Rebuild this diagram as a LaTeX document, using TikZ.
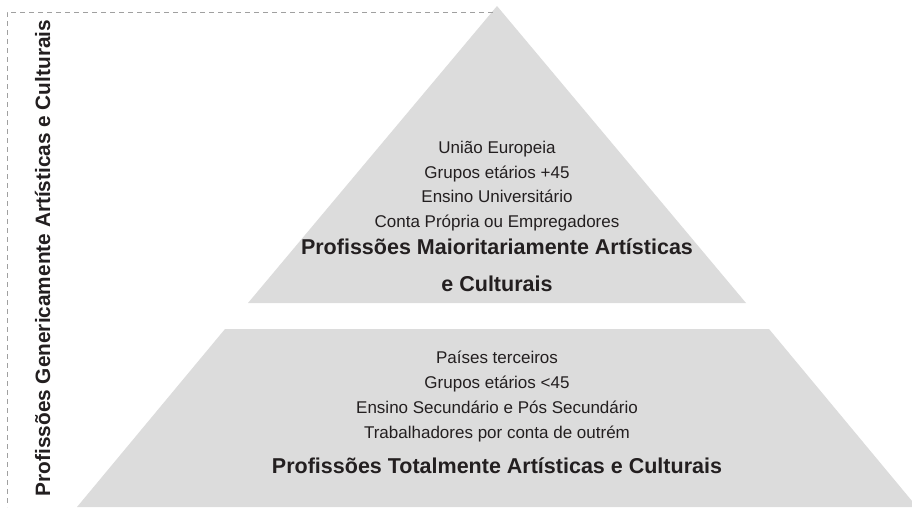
\documentclass[tikz,border=0pt]{standalone}
\usepackage{fontspec}
\setmainfont{Liberation Sans}
\usepackage{tikz}
\usetikzlibrary{positioning, calc}
\definecolor{pyrgray}{RGB}{220,220,220}
\definecolor{inkdark}{RGB}{35,31,32}
\definecolor{dashgray}{RGB}{160,160,160}

\tikzset{
  detail/.style={text=inkdark, font=\fontsize{17}{20}\selectfont, anchor=base, inner sep=0pt},
  level/.style={text=inkdark, font=\fontsize{21.5}{25}\bfseries, anchor=base, inner sep=0pt}
}

\begin{document}
\begin{tikzpicture}[x=1pt, y=-1pt]
        \useasboundingbox (0,0) rectangle (912,507);

        % Pyramid layers
        \fill [pyrgray] (248,303) -- (497,6) -- (746,303) -- cycle;
        \fill [pyrgray] (225,329) -- (769,329) -- (917,507) -- (77,507) -- cycle;

        % Dashed frame
        \draw [dashgray, line width=0.8pt, dash pattern=on 5pt off 4pt] (493,12) -- (7,12) -- (7,507);

        % Side label
        \node [level, rotate=90, font=\fontsize{20.8}{25}\bfseries] (generic) at (50,258) {Profissões Genericamente Artísticas e Culturais};

        % Upper layer
        \node [detail] (u1) at (497,153) {União Europeia};
        \node [detail] (u2) at (497,178) {Grupos etários +45};
        \node [detail] (u3) at (497,202) {Ensino Universitário};
        \node [detail] (u4) at (497,227) {Conta Própria ou Empregadores};
        \node [level] (major) at (497,254) {Profissões Maioritariamente Artísticas};
        \node [level] (major2) at (497,291) {e Culturais};

        % Lower layer
        \node [detail] (l1) at (497,363) {Países terceiros};
        \node [detail] (l2) at (497,388) {Grupos etários <45};
        \node [detail] (l3) at (497,413) {Ensino Secundário e Pós Secundário};
        \node [detail] (l4) at (497,438) {Trabalhadores por conta de outrém};
        \node [level] (total) at (497,473) {Profissões Totalmente Artísticas e Culturais};
    \end{tikzpicture}
\end{document}
